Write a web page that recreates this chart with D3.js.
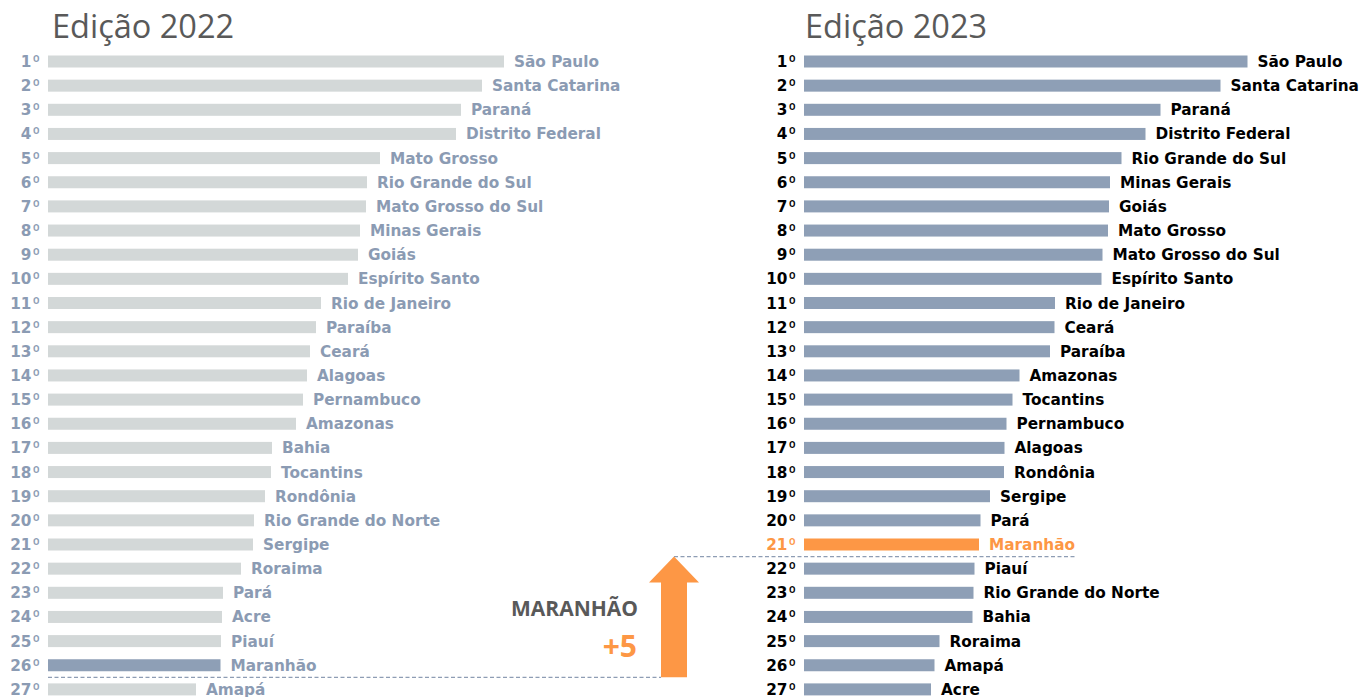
<!DOCTYPE html>
<html>
<head>
<meta charset="utf-8">
<script src="https://cdn.jsdelivr.net/npm/d3@7"></script>
<style>
  html, body { margin: 0; padding: 0; background: #ffffff; }
  svg { display: block; }
</style>
</head>
<body>
<svg id="chart" width="1365" height="697"></svg>
<script>
// ---------- DATA ----------
const ranks = ["1º","2º","3º","4º","5º","6º","7º","8º","9º","10º","11º","12º","13º","14º","15º","16º","17º","18º","19º","20º","21º","22º","23º","24º","25º","26º","27º"];

const states2022 = ["São Paulo","Santa Catarina","Paraná","Distrito Federal","Mato Grosso","Rio Grande do Sul","Mato Grosso do Sul","Minas Gerais","Goiás","Espírito Santo","Rio de Janeiro","Paraíba","Ceará","Alagoas","Pernambuco","Amazonas","Bahia","Tocantins","Rondônia","Rio Grande do Norte","Sergipe","Roraima","Pará","Acre","Piauí","Maranhão","Amapá"];
const scores2022 = [91.2, 86.8, 82.6, 81.6, 66.4, 63.8, 63.6, 62.4, 62.0, 60.0, 54.6, 53.6, 52.4, 51.8, 51.0, 49.6, 44.8, 44.6, 43.4, 41.2, 41.0, 38.6, 35.0, 34.8, 34.6, 34.5, 29.6];

const states2023 = ["São Paulo","Santa Catarina","Paraná","Distrito Federal","Rio Grande do Sul","Minas Gerais","Goiás","Mato Grosso","Mato Grosso do Sul","Espírito Santo","Rio de Janeiro","Ceará","Paraíba","Amazonas","Tocantins","Pernambuco","Alagoas","Rondônia","Sergipe","Pará","Maranhão","Piauí","Rio Grande do Norte","Bahia","Roraima","Amapá","Acre"];
const scores2023 = [88.7, 83.3, 71.3, 68.3, 63.5, 61.2, 61.0, 60.8, 59.7, 59.5, 50.2, 50.1, 49.2, 43.1, 41.7, 40.5, 40.1, 40.0, 37.2, 35.3, 35.0, 34.1, 33.9, 33.7, 27.1, 26.1, 25.4];

const titles = ["Edição 2022", "Edição 2023"];
const highlight = "Maranhão";
const annotationLabel = "MARANHÃO";
const annotationDelta = "+5";

// ---------- STYLE ----------
const C = {
  barLight: "#d3d8d8",
  barBlue: "#8e9fb6",
  textBlue: "#8b9bb3",
  orange: "#fd9745",
  title: "#595959",
  dash: "#8e9db4"
};
const labelFont = "'DejaVu Sans', Verdana, sans-serif";

const svg = d3.select("#chart");

// shared scales
const x = d3.scaleLinear().domain([0, 100]).range([0, 500]);
const y = d3.scalePoint().domain(ranks).range([61.5, 689.4]);
const barH = 12;
const step = y.step();

function drawPanel(opts) {
  const g = svg.append("g");
  const data = opts.states.map((s, i) => ({ state: s, score: opts.scores[i], rank: ranks[i] }));

  g.append("text")
    .attr("x", opts.titleX).attr("y", 37.5)
    .attr("font-family", "'Open Sans', 'Noto Sans', sans-serif")
    .attr("font-size", 32.5)
    .attr("fill", C.title)
    .text(opts.title);

  g.selectAll("rect.bar").data(data).join("rect")
    .attr("class", "bar")
    .attr("x", opts.x0)
    .attr("y", d => y(d.rank) - barH / 2)
    .attr("width", d => x(d.score))
    .attr("height", barH)
    .attr("fill", d => opts.barColor(d));

  const rk = g.selectAll("text.rank").data(data).join("text")
    .attr("class", "rank")
    .attr("x", opts.rankX)
    .attr("y", d => y(d.rank))
    .attr("dy", "0.36em")
    .attr("text-anchor", "end")
    .attr("font-family", labelFont)
    .attr("font-weight", "bold")
    .attr("font-size", 15.3)
    .attr("fill", d => opts.rankColor(d));
  rk.append("tspan").text(d => d.rank.slice(0, -1));
  rk.append("tspan")
    .attr("font-family", "Roboto, 'Open Sans', sans-serif")
    .attr("font-size", 16.5)
    .attr("dx", 1)
    .text(d => d.rank.slice(-1));

  g.selectAll("text.state").data(data).join("text")
    .attr("class", "state")
    .attr("x", d => opts.x0 + x(d.score) + 10)
    .attr("y", d => y(d.rank))
    .attr("dy", "0.36em")
    .attr("font-family", labelFont)
    .attr("font-weight", "bold")
    .attr("font-size", 15.3)
    .attr("fill", d => opts.labelColor(d))
    .text(d => d.state);
  return data;
}

drawPanel({
  title: titles[0], titleX: 52, x0: 48, rankX: 40,
  states: states2022, scores: scores2022,
  barColor: d => d.state === highlight ? C.barBlue : C.barLight,
  rankColor: () => C.textBlue,
  labelColor: () => C.textBlue
});

drawPanel({
  title: titles[1], titleX: 805, x0: 804, rankX: 796,
  states: states2023, scores: scores2023,
  barColor: d => d.state === highlight ? C.orange : C.barBlue,
  rankColor: d => d.state === highlight ? C.orange : "#000000",
  labelColor: d => d.state === highlight ? C.orange : "#000000"
});

// ---------- ANNOTATION ----------
const i22 = states2022.indexOf(highlight);
const i23 = states2023.indexOf(highlight);
const yOld = y(ranks[i22]) + step / 2;   // line below Maranhão 2022
const yNew = y(ranks[i23]) + step / 2;   // line below Maranhão 2023

const arrowCx = 674, shaftHalf = 13, headHalf = 25, headLen = 26;

svg.append("line")
  .attr("x1", 48).attr("x2", arrowCx - shaftHalf)
  .attr("y1", yOld).attr("y2", yOld)
  .attr("stroke", C.dash).attr("stroke-width", 1.2)
  .attr("stroke-dasharray", "4,2.5");

svg.append("line")
  .attr("x1", arrowCx).attr("x2", 1077)
  .attr("y1", yNew).attr("y2", yNew)
  .attr("stroke", C.dash).attr("stroke-width", 1.2)
  .attr("stroke-dasharray", "4,2.5");

const arrowPts = [
  [arrowCx - shaftHalf, yOld],
  [arrowCx - shaftHalf, yNew + headLen],
  [arrowCx - headHalf, yNew + headLen],
  [arrowCx, yNew],
  [arrowCx + headHalf, yNew + headLen],
  [arrowCx + shaftHalf, yNew + headLen],
  [arrowCx + shaftHalf, yOld]
];
svg.append("path")
  .attr("d", d3.line()(arrowPts) + "Z")
  .attr("fill", C.orange);

svg.append("text")
  .attr("x", 638).attr("y", 616)
  .attr("text-anchor", "end")
  .attr("font-family", "'Open Sans', sans-serif")
  .attr("font-weight", "bold")
  .attr("font-size", 21)
  .attr("fill", C.title)
  .text(annotationLabel);

svg.append("text")
  .attr("x", 637).attr("y", 657)
  .attr("text-anchor", "end")
  .attr("font-family", "'Open Sans', sans-serif")
  .attr("font-weight", "bold")
  .attr("font-size", 30)
  .attr("fill", C.orange)
  .text(annotationDelta);
</script>
</body>
</html>
